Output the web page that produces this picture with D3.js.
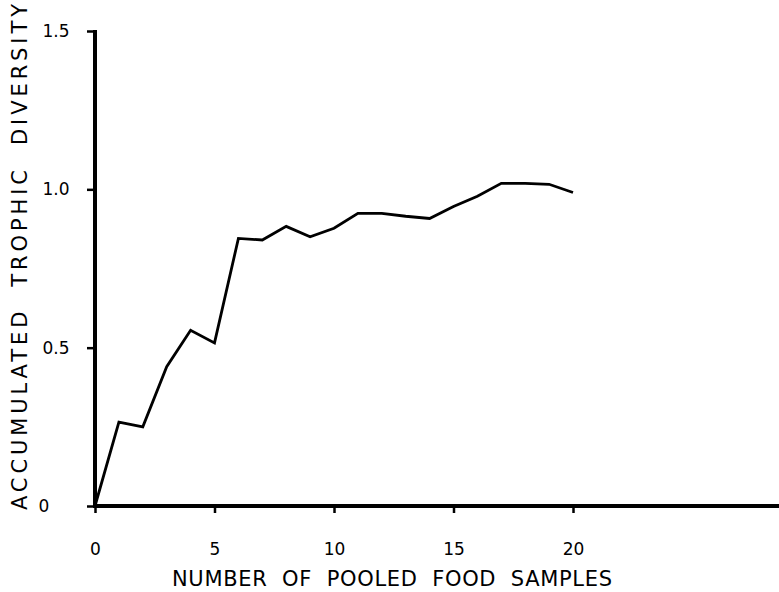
<!DOCTYPE html>
<html>
<head>
<meta charset="utf-8">
<script src="https://cdn.jsdelivr.net/npm/d3@7"></script>
<style>
  body { margin: 0; background: #fff; }
  text { font-family: "DejaVu Sans", sans-serif; fill: #000; }
  .title { white-space: pre; }
</style>
</head>
<body>
<svg id="chart"></svg>
<script>
// Data
const samples = [0, 1, 2, 3, 4, 5, 6, 7, 8, 9, 10, 11, 12, 13, 14, 15, 16, 17, 18, 19, 20];
const diversity = [0, 0.265, 0.25, 0.44, 0.555, 0.515, 0.845, 0.84, 0.883, 0.85, 0.877,
                   0.924, 0.924, 0.915, 0.908, 0.946, 0.978, 1.019, 1.019, 1.016, 0.99];
const xTicks = [0, 5, 10, 15, 20];
const yTicks = [0, 0.5, 1.0, 1.5];
const yTickLabels = ['0', '0.5', '1.0', '1.5'];

const width = 779;
const height = 592;

const svg = d3.select('#chart')
    .attr('width', width)
    .attr('height', height);

// Scales
const xScale = d3.scaleLinear().domain([0, 20]).range([95, 573]);
const yScale = d3.scaleLinear().domain([0, 1.5]).range([506, 31]);

// X axis: ticks hang below, the line runs off to the right edge
const xAxis = d3.axisBottom(xScale)
    .tickValues(xTicks)
    .tickSize(7)
    .tickPadding(30)
    .tickFormat(d3.format('d'));

const gx = svg.append('g')
    .attr('transform', `translate(0, ${yScale(0)})`)
    .call(xAxis);
gx.select('.domain').remove();
gx.selectAll('.tick line').attr('stroke', '#000').attr('stroke-width', 2.5);
gx.selectAll('.tick text').attr('font-size', 17);

svg.append('line')
    .attr('x1', xScale(0) - 2)
    .attr('x2', width)
    .attr('y1', yScale(0))
    .attr('y2', yScale(0))
    .attr('stroke', '#000')
    .attr('stroke-width', 4);

// Y axis
const yAxis = d3.axisLeft(yScale)
    .tickValues(yTicks)
    .tickSize(8)
    .tickPadding(28)
    .tickFormat((d, i) => yTickLabels[i]);

const gy = svg.append('g')
    .attr('transform', `translate(${xScale(0)}, 0)`)
    .call(yAxis);
gy.select('.domain').remove();
gy.selectAll('.tick line').attr('stroke', '#000').attr('stroke-width', 2.5);
gy.selectAll('.tick text')
    .attr('font-size', 17)
    .attr('text-anchor', 'middle')
    .attr('dx', d => d == 0 ? -15 : -3);

svg.append('line')
    .attr('x1', xScale(0))
    .attr('x2', xScale(0))
    .attr('y1', yScale(0) + 2)
    .attr('y2', yScale(1.5) - 1)
    .attr('stroke', '#000')
    .attr('stroke-width', 4);

// Axis titles
svg.append('text')
    .attr('class', 'title')
    .attr('x', 172)
    .attr('y', 586)
    .attr('font-size', 21)
    .attr('textLength', 440)
    .attr('lengthAdjust', 'spacing')
    .text('NUMBER  OF  POOLED  FOOD  SAMPLES');

svg.append('text')
    .attr('class', 'title')
    .attr('transform', 'translate(27, 510) rotate(-90)')
    .attr('font-size', 21)
    .attr('textLength', 506)
    .attr('lengthAdjust', 'spacing')
    .text('ACCUMULATED  TROPHIC  DIVERSITY');

// The curve
const line = d3.line()
    .x((d, i) => xScale(samples[i]))
    .y(d => yScale(d));

svg.append('path')
    .datum(diversity)
    .attr('fill', 'none')
    .attr('stroke', '#000')
    .attr('stroke-width', 2.8)
    .attr('stroke-linejoin', 'miter')
    .attr('d', line);
</script>
</body>
</html>
